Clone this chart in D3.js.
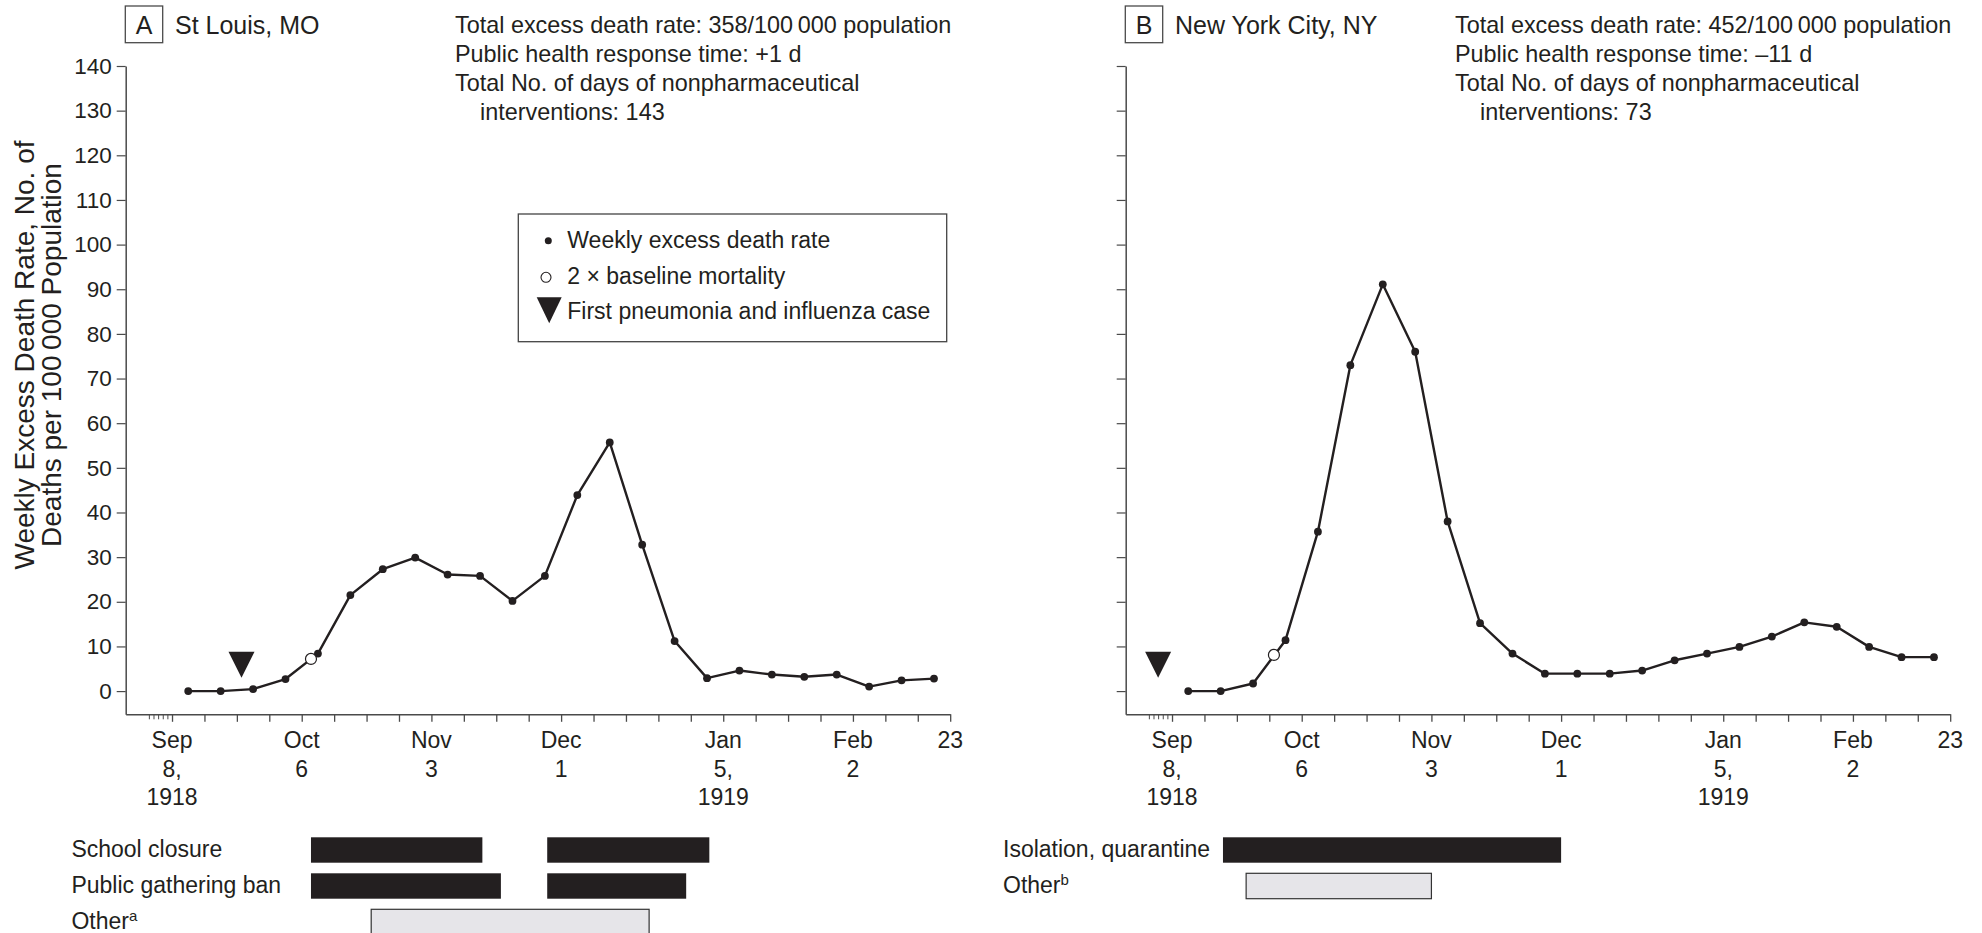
<!DOCTYPE html>
<html>
<head>
<meta charset="utf-8">
<script src="https://cdn.jsdelivr.net/npm/d3@7"></script>
<style>
  body { margin: 0; background: #fff; }
  svg { display: block; }
  text { font-family: "Liberation Sans", Arial, Helvetica, sans-serif; fill: #231f20; }
</style>
</head>
<body>
<svg id="chart" width="1982" height="933"></svg>
<script>
// ---- Data -------------------------------------------------------------
// Start (Sunday) of each reporting week; rates are plotted at mid-week.
const weekStarts = [
  "1918-09-08","1918-09-15","1918-09-22","1918-09-29","1918-10-06","1918-10-13",
  "1918-10-20","1918-10-27","1918-11-03","1918-11-10","1918-11-17","1918-11-24",
  "1918-12-01","1918-12-08","1918-12-15","1918-12-22","1918-12-29","1919-01-05",
  "1919-01-12","1919-01-19","1919-01-26","1919-02-02","1919-02-09","1919-02-16"
];
// Weekly excess death rate, deaths per 100 000 population
const stLouisRate = [0, 0, 0.45, 2.7, 8.4, 21.5, 27.3, 29.9, 26.1, 25.8, 20.2, 25.8,
                     43.9, 55.7, 32.8, 11.2, 2.9, 4.6, 3.7, 3.2, 3.7, 1.0, 2.4, 2.8];
const nycRate     = [0, 0, 1.7, 11.4, 35.7, 73.0, 91.1, 76.0, 38.0, 15.2, 8.4, 3.9,
                     3.9, 3.9, 4.6, 6.9, 8.4, 9.9, 12.2, 15.4, 14.4, 9.9, 7.6, 7.6];

// Date on which the rate reached 2 x baseline mortality, and the rate there
const baselineCrossDates  = ["1918-10-08", "1918-09-30"];
const baselineCrossValues = [7.2, 8.1];
// Date of the first pneumonia and influenza case
const firstCaseDates = ["1918-09-23", "1918-09-05"];

const panelLetters = ["A", "B"];
const panelCities  = ["St Louis, MO", "New York City, NY"];
const panelStats = [
  ["Total excess death rate: 358/100\u2009000 population",
   "Public health response time: +1 d",
   "Total No. of days of nonpharmaceutical",
   "interventions: 143"],
  ["Total excess death rate: 452/100\u2009000 population",
   "Public health response time: \u201311 d",
   "Total No. of days of nonpharmaceutical",
   "interventions: 73"]
];

// Axis ticks
const yTicks = [0, 10, 20, 30, 40, 50, 60, 70, 80, 90, 100, 110, 120, 130, 140];
const dateLabelTicks = ["1918-09-08","1918-10-06","1918-11-03","1918-12-01",
                        "1919-01-05","1919-02-02","1919-02-23"];
const dateLabelLines = [["Sep","8,","1918"], ["Oct","6"], ["Nov","3"], ["Dec","1"],
                        ["Jan","5,","1919"], ["Feb","2"], ["23"]];
const dayTicks = ["1918-09-03","1918-09-04","1918-09-05","1918-09-06","1918-09-07"];
const axisStart = "1918-08-29";
const axisEnd   = "1919-02-23";

// Nonpharmaceutical interventions: [label, superscript, kind, periods]
const stLouisInterventions = [
  ["School closure", "", "main", [["1918-10-08","1918-11-14"], ["1918-11-28","1919-01-02"]]],
  ["Public gathering ban", "", "main", [["1918-10-08","1918-11-18"], ["1918-11-28","1918-12-28"]]],
  ["Other", "a", "other", [["1918-10-21","1918-12-20"]]]
];
const nycInterventions = [
  ["Isolation, quarantine", "", "main", [["1918-09-19","1918-12-01"]]],
  ["Other", "b", "other", [["1918-09-24","1918-11-03"]]]
];

const legendLabels = ["Weekly excess death rate", "2 \u00d7 baseline mortality",
                      "First pneumonia and influenza case"];

// ---- Layout -----------------------------------------------------------
const ink = "#231f20";
const axisColor = "#4a4a4a";
const parse = d3.utcParse("%Y-%m-%d");
const midWeek = d => d3.utcHour.offset(parse(d), 84);

const svg = d3.select("#chart");
const plotTop = 66, plotBottom = 714.3;
const y = d3.scaleLinear().domain([-5.2, 140]).range([plotBottom, plotTop]);

const panels = [
  { rates: stLouisRate, interventions: stLouisInterventions, left: 125.7, labelX: 71.4, legend: true },
  { rates: nycRate, interventions: nycInterventions, left: 1125.7, labelX: 1003, legend: false }
];

// Y-axis title
const yTitle = svg.append("text")
  .attr("transform", "translate(33.5,355) rotate(-90)")
  .attr("text-anchor", "middle")
  .style("font-size", "28px");
yTitle.append("tspan").attr("x", 0).attr("y", 0).text("Weekly Excess Death Rate, No. of");
yTitle.append("tspan").attr("x", 0).attr("y", 27.5).text("Deaths per 100\u2009000 Population");

panels.forEach((p, i) => {
  const x = d3.scaleUtc()
    .domain([parse(axisStart), parse(axisEnd)])
    .range([p.left, p.left + 824.5]);

  const g = svg.append("g");

  // Panel heading
  const hx = p.left - 0.4;
  g.append("rect")
    .attr("x", hx).attr("y", 6).attr("width", 37.4).attr("height", 36.7)
    .attr("fill", "none").attr("stroke", axisColor).attr("stroke-width", 1.3);
  g.append("text").attr("x", hx + 18.7).attr("y", 34).attr("text-anchor", "middle")
    .style("font-size", "25px").text(panelLetters[i]);
  g.append("text").attr("x", hx + 49.7).attr("y", 34.3)
    .style("font-size", "25px").text(panelCities[i]);

  const statsX = p.left + 329.3;
  panelStats[i].forEach((line, k) => {
    g.append("text")
      .attr("x", k === 3 ? statsX + 25 : statsX)
      .attr("y", 33.3 + k * 29)
      .style("font-size", "23.4px")
      .text(line);
  });

  // Y axis
  const yAxis = d3.axisLeft(y).tickValues(yTicks).tickSize(9).tickPadding(5).tickSizeOuter(0);
  if (i === 1) yAxis.tickFormat("");
  const ya = g.append("g").attr("transform", `translate(${p.left},0)`).call(yAxis);
  ya.select(".domain").attr("stroke", axisColor).attr("stroke-width", 1.5);
  ya.selectAll(".tick line").attr("stroke", axisColor).attr("stroke-width", 1.2);
  ya.selectAll(".tick text").style("font-size", "22.5px").attr("fill", ink)
    .style("font-family", '"Liberation Sans", Arial, sans-serif');

  // X axis: weekly ticks
  const weekTicks = d3.utcSunday.range(parse("1918-09-08"), d3.utcDay.offset(parse(axisEnd), 1));
  const xa = g.append("g").attr("transform", `translate(0,${plotBottom})`)
    .call(d3.axisBottom(x).tickValues(weekTicks).tickSize(7.5).tickSizeOuter(0).tickFormat(""));
  xa.select(".domain").attr("stroke", axisColor).attr("stroke-width", 1.5);
  xa.selectAll(".tick line").attr("stroke", axisColor).attr("stroke-width", 1.3);

  // Daily ticks just before the first week
  const da = g.append("g").attr("transform", `translate(0,${plotBottom})`)
    .call(d3.axisBottom(x).tickValues(dayTicks.map(parse)).tickSize(5).tickFormat(""));
  da.select(".domain").remove();
  da.selectAll(".tick line").attr("stroke", axisColor).attr("stroke-width", 1);

  // Multi-line date labels
  dateLabelTicks.forEach((d, k) => {
    const t = g.append("text")
      .attr("x", x(parse(d)))
      .attr("text-anchor", "middle")
      .style("font-size", "23px");
    dateLabelLines[k].forEach((ln, j) => {
      t.append("tspan").attr("x", x(parse(d))).attr("y", plotBottom + 34 + j * 28.4).text(ln);
    });
  });

  // Series
  const pts = weekStarts.map((d, k) => ({ date: midWeek(d), value: p.rates[k] }));
  g.append("path")
    .datum(pts)
    .attr("fill", "none")
    .attr("stroke", ink)
    .attr("stroke-width", 2.4)
    .attr("stroke-linejoin", "round")
    .attr("d", d3.line().x(d => x(d.date)).y(d => y(d.value)));

  g.selectAll("circle.pt").data(pts).join("circle")
    .attr("class", "pt")
    .attr("cx", d => x(d.date)).attr("cy", d => y(d.value))
    .attr("r", 3.9).attr("fill", ink);

  // 2 x baseline marker
  g.append("circle")
    .attr("cx", x(parse(baselineCrossDates[i])))
    .attr("cy", y(baselineCrossValues[i]))
    .attr("r", 5.5)
    .attr("fill", "#fff").attr("stroke", ink).attr("stroke-width", 1.2);

  // First case marker (downward triangle just above the baseline)
  const fx = x(parse(firstCaseDates[i]));
  const tipY = y(3);
  g.append("path")
    .attr("d", `M${fx - 13},${tipY - 26}L${fx + 13},${tipY - 26}L${fx},${tipY}Z`)
    .attr("fill", ink);

  // Interventions
  p.interventions.forEach(([label, sup, kind, periods], r) => {
    const top = 837.3 + r * 36;
    const lt = g.append("text").attr("x", p.labelX).attr("y", top + 19.7)
      .style("font-size", "23px").text(label);
    if (sup) {
      lt.append("tspan").attr("dy", -8).style("font-size", "15px").text(sup);
    }
    periods.forEach(([s, e]) => {
      g.append("rect")
        .attr("x", x(parse(s)))
        .attr("y", top)
        .attr("width", x(parse(e)) - x(parse(s)))
        .attr("height", 25.4)
        .attr("fill", kind === "main" ? ink : "#e6e5e9")
        .attr("stroke", kind === "main" ? "none" : "#333")
        .attr("stroke-width", 1.2);
    });
  });

  // Legend
  if (p.legend) {
    const lg = g.append("g");
    lg.append("rect").attr("x", 518.3).attr("y", 214).attr("width", 428.4).attr("height", 127.7)
      .attr("fill", "#fff").attr("stroke", "#444").attr("stroke-width", 1.3);
    lg.append("circle").attr("cx", 548.3).attr("cy", 240.7).attr("r", 3.5).attr("fill", ink);
    lg.append("circle").attr("cx", 546).attr("cy", 277.3).attr("r", 5)
      .attr("fill", "#fff").attr("stroke", ink).attr("stroke-width", 1.1);
    lg.append("path").attr("d", "M536.7,297.3L561.7,297.3L549.2,323.3Z").attr("fill", ink);
    [248, 283.5, 318.5].forEach((by, k) => {
      lg.append("text").attr("x", 567.3).attr("y", by).style("font-size", "23px").text(legendLabels[k]);
    });
  }
});
</script>
</body>
</html>
